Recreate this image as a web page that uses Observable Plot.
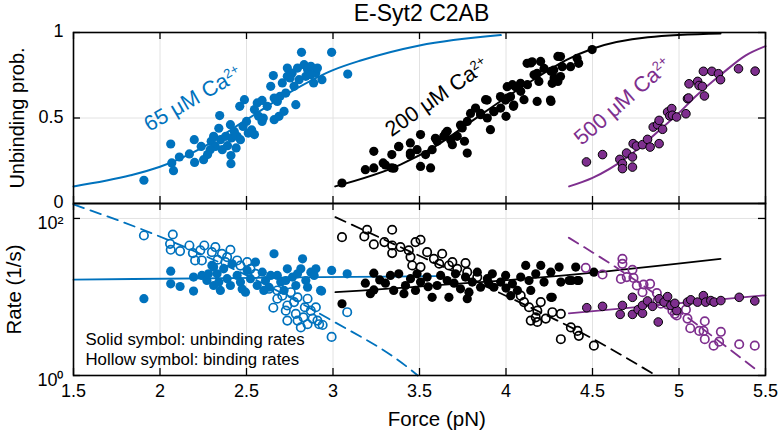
<!DOCTYPE html>
<html><head><meta charset="utf-8">
<script src="https://cdn.jsdelivr.net/npm/d3@7"></script>
<script src="https://cdn.jsdelivr.net/npm/@observablehq/plot@0.6"></script>
<style>
body{margin:0;background:#fff;}
#chart{width:779px;height:438px;font-family:"Liberation Sans",Arial,sans-serif;}
#chart svg{display:block;overflow:visible;}
</style></head><body><div id="chart"></div>
<script>
// ---------- data ----------
const title = "E-Syt2 C2AB";
const xTicks = [1.5, 2, 2.5, 3, 3.5, 4, 4.5, 5, 5.5];
const xTickLabels = ["1.5", "2", "2.5", "3", "3.5", "4", "4.5", "5", "5.5"];
const probTicks = [0, 0.5, 1];
const probTickLabels = ["0", "0.5", "1"];
const rateTicks = [1, 100];
const rateTickLabels = ["10\u2070", "10\u00B2"];
const seriesNames = ["65 \u03BCM Ca\u00B2\u207A", "200 \u03BCM Ca\u00B2\u207A", "500 \u03BCM Ca\u00B2\u207A"];
const legendLines = ["Solid symbol: unbinding rates", "Hollow symbol: binding rates"];
const xLabel = "Force (pN)", yLabelTop = "Unbinding prob.", yLabelBottom = "Rate (1/s)";

// unbinding probability [force pN, prob]
const probBlue = [[1.907,0.136],[2.062,0.348],[2.068,0.237],[2.078,0.192],[2.112,0.272],[2.17,0.29],[2.198,0.373],[2.20,0.24],[2.252,0.256],[2.238,0.334],[2.296,0.364],[2.31,0.393],[2.345,0.514],[2.34,0.44],[2.35,0.373],[2.36,0.315],[2.32,0.334],[2.407,0.461],[2.413,0.383],[2.41,0.28],[2.41,0.233],[2.44,0.325],[2.446,0.393],[2.461,0.568],[2.488,0.607],[2.48,0.451],[2.50,0.48],[2.51,0.412],[2.546,0.403],[2.546,0.549],[2.562,0.588],[2.59,0.603],[2.597,0.5],[2.59,0.48],[2.62,0.568],[2.64,0.685],[2.655,0.748],[2.66,0.49],[2.678,0.597],[2.688,0.51],[2.694,0.627],[2.717,0.539],[2.727,0.646],[2.736,0.792],[2.752,0.734],[2.775,0.685],[2.785,0.578],[2.804,0.724],[2.818,0.884],[2.833,0.812],[2.843,0.744],[2.853,0.783],[2.872,0.802],[2.888,0.705],[2.90,0.763],[2.91,0.792],[2.936,0.724],[2.992,0.884],[3.085,0.757],[2.275,0.286],[2.29,0.315],[2.38,0.393],[2.39,0.338],[2.43,0.42],[2.465,0.373],[2.53,0.43],[2.57,0.51],[2.66,0.617],[2.707,0.705],[2.764,0.763],[2.795,0.792],[2.872,0.753],[2.736,0.744]];
const probBlack = [[3.052,0.12],[3.187,0.198],[3.236,0.208],[3.236,0.305],[3.29,0.237],[3.34,0.208],[3.34,0.286],[3.38,0.334],[3.447,0.354],[3.447,0.295],[3.486,0.315],[3.506,0.403],[3.506,0.217],[3.564,0.208],[3.535,0.286],[3.573,0.315],[3.602,0.364],[3.64,0.393],[3.66,0.422],[3.69,0.344],[3.718,0.393],[3.747,0.442],[3.76,0.364],[3.776,0.295],[3.776,0.48],[3.824,0.558],[3.853,0.519],[3.882,0.607],[3.892,0.5],[3.91,0.432],[3.93,0.539],[3.969,0.558],[4.0,0.51],[4.008,0.617],[4.037,0.695],[4.043,0.568],[4.085,0.656],[4.104,0.607],[4.124,0.695],[4.143,0.822],[4.162,0.753],[4.18,0.597],[4.19,0.714],[4.2,0.831],[4.26,0.597],[4.26,0.773],[4.278,0.734],[4.30,0.86],[4.30,0.714],[4.026,0.625],[4.007,0.683],[4.045,0.576],[4.055,0.683],[4.084,0.703],[4.122,0.82],[4.151,0.829],[4.18,0.761],[4.22,0.79],[4.257,0.605],[4.267,0.703],[4.276,0.78],[4.315,0.859],[4.315,0.742],[4.325,0.8],[4.373,0.8],[4.411,0.849],[4.42,0.82],[4.498,0.90],[3.303,0.225],[3.352,0.206],[3.38,0.332],[3.447,0.284],[3.592,0.381],[3.65,0.41],[3.68,0.371],[3.737,0.459],[3.795,0.527],[3.853,0.527],[3.891,0.605],[3.93,0.537],[3.968,0.625],[3.997,0.605]];
const probPurple = [[4.465,0.243],[4.558,0.286],[4.658,0.258],[4.673,0.233],[4.673,0.204],[4.697,0.295],[4.731,0.272],[4.731,0.213],[4.735,0.35],[4.754,0.336],[4.789,0.344],[4.818,0.375],[4.833,0.33],[4.851,0.447],[4.876,0.461],[4.885,0.486],[4.885,0.35],[4.905,0.434],[4.934,0.535],[4.947,0.512],[4.958,0.555],[4.962,0.516],[4.986,0.506],[5.04,0.525],[5.049,0.613],[5.055,0.617],[5.058,0.70],[5.108,0.714],[5.116,0.69],[5.135,0.685],[5.147,0.629],[5.141,0.773],[5.19,0.773],[5.228,0.759],[5.24,0.724],[5.344,0.788],[5.44,0.774]];

// fitted probability curves
const fitProbBlue = [[1.5,0.10],[1.83,0.165],[2.0,0.215],[2.25,0.33],[2.5,0.49],[2.75,0.65],[3.0,0.78],[3.16,0.836],[3.5,0.924],[3.97,0.985]];
const fitProbBlack = [[3.013,0.10],[3.39,0.227],[3.6,0.34],[3.8,0.48],[4.0,0.62],[4.2,0.75],[4.35,0.84],[4.5,0.905],[4.82,0.972],[5.24,0.994]];
const fitProbPurple = [[4.365,0.10],[4.5,0.15],[4.7,0.27],[4.9,0.44],[5.0,0.53],[5.1,0.63],[5.25,0.76],[5.384,0.865],[5.5,0.92]];

// rates (1/s): U = unbinding (solid), B = binding (hollow)
const rateBlueU = [[1.907,9.5],[2.062,21.3],[2.062,14.7],[2.116,13.6],[2.194,11.9],[2.194,17.9],[2.242,18.8],[2.271,16.2],[2.30,25.2],[2.31,14.0],[2.33,19.7],[2.349,12.1],[2.368,22.8],[2.388,17.1],[2.407,14.0],[2.417,26.5],[2.446,18.8],[2.465,15.5],[2.494,11.5],[2.504,21.8],[2.523,17.1],[2.552,27.8],[2.562,14.0],[2.591,20.7],[2.61,16.2],[2.63,13.3],[2.659,35.5],[2.678,18.8],[2.698,15.5],[2.717,12.1],[2.736,22.8],[2.766,17.9],[2.785,14.0],[2.814,22.8],[2.824,30.6],[2.843,16.2],[2.872,20.7],[2.891,18.8],[2.901,22.8],[2.934,11.9],[2.992,21.8],[3.082,19.7],[2.928,12.1],[2.28,19.7],[2.34,15.5],[2.475,12.6],[2.60,12.1],[2.64,18.8],[2.727,16.2],[2.795,19.7],[2.853,13.3],[2.31,24.0]];
const rateBlueB = [[1.907,60.7],[2.074,62.5],[2.058,47.5],[2.062,39.9],[2.116,38.4],[2.17,45.3],[2.19,36.2],[2.203,29.2],[2.233,39.2],[2.242,29.2],[2.256,45.3],[2.30,37.2],[2.333,29.8],[2.358,35.5],[2.388,32.2],[2.407,39.9],[2.446,29.2],[2.504,27.8],[2.523,22.8],[2.552,19.7],[2.63,12.7],[2.655,7.3],[2.678,9.5],[2.727,6.7],[2.736,5.0],[2.756,11.5],[2.775,8.6],[2.785,6.1],[2.795,5.0],[2.814,4.1],[2.829,5.5],[2.837,7.4],[2.853,9.5],[2.882,5.3],[2.901,7.4],[2.91,5.0],[2.92,4.5],[2.94,4.4],[2.992,3.1],[3.082,6.4],[2.32,43.2],[2.378,27.8],[2.465,25.1],[2.678,12.1],[2.707,10.4],[2.736,7.8],[2.795,9.9],[2.872,6.7],[2.853,4.5]];
const rateBlackU = [[3.052,8.2],[3.236,20.1],[3.187,15.0],[3.236,12.3],[3.303,15.0],[3.332,18.8],[3.351,12.1],[3.38,19.7],[3.419,14.0],[3.448,17.1],[3.477,12.1],[3.486,19.7],[3.506,15.5],[3.544,17.9],[3.573,9.9],[3.602,14.0],[3.622,18.8],[3.67,9.9],[3.66,16.2],[3.708,19.7],[3.737,12.7],[3.776,9.5],[3.766,17.9],[3.805,15.5],[3.834,20.7],[3.853,13.3],[3.892,17.1],[3.921,19.7],[3.93,13.3],[3.969,15.5],[3.998,18.8],[4.027,10.4],[4.037,14.7],[4.066,12.1],[4.085,17.9],[4.114,25.2],[4.133,16.2],[4.143,12.1],[4.172,19.7],[4.201,25.2],[4.22,15.5],[4.259,20.7],[4.259,9.9],[4.307,24.0],[4.317,15.5],[4.365,16.2],[4.403,24.0],[4.413,16.2],[4.508,20.7],[4.38,16.2],[4.42,16.2],[4.267,9.9],[3.216,11.0],[3.41,11.0],[3.786,11.5],[3.27,16.5],[3.55,13.5],[3.9,15.0],[4.0,13.0],[3.7,15.0]];
const rateBlackB = [[3.052,57.8],[3.197,71.8],[3.181,59],[3.236,46.7],[3.297,50],[3.342,71.8],[3.342,45.3],[3.342,36.2],[3.39,43.2],[3.438,39.2],[3.448,32.2],[3.477,50],[3.506,53.5],[3.458,25.2],[3.506,24.0],[3.544,37.2],[3.583,30.6],[3.614,26.5],[3.631,35.5],[3.67,25.2],[3.69,27.8],[3.718,22.8],[3.766,27],[3.776,20.7],[3.834,17.9],[4.085,10.4],[4.104,8.6],[4.133,7.4],[4.143,5.0],[4.172,5.5],[4.181,6.7],[4.181,4.8],[4.201,8.6],[4.23,5.3],[4.268,6.4],[4.317,2.9],[4.317,6.1],[4.375,4.1],[4.413,3.7],[4.421,3.2],[4.508,2.4]];
const ratePurpleU = [[4.467,7.3],[4.558,7.6],[4.66,6.0],[4.673,7.8],[4.731,6.0],[4.731,9.9],[4.764,6.9],[4.789,6.2],[4.789,7.8],[4.818,8.9],[4.847,7.6],[4.88,4.8],[4.885,9.5],[4.914,8.6],[4.934,10.1],[4.953,7.8],[4.987,6.7],[4.976,8.3],[5.049,8.6],[5.068,9.2],[5.107,8.6],[5.141,10.4],[5.154,8.6],[5.184,9.0],[5.203,8.6],[5.242,9.0],[5.348,9.9],[5.438,8.9]];
const ratePurpleB = [[4.461,23.5],[4.558,19.3],[4.673,30.6],[4.673,26.4],[4.664,17.0],[4.698,17.9],[4.731,22.2],[4.737,17.5],[4.756,14.0],[4.789,11.5],[4.795,14.4],[4.833,14.7],[4.872,11.2],[4.876,9.0],[4.895,8.2],[4.934,8.0],[4.962,6.7],[4.976,6.1],[4.987,5.8],[5.04,6.9],[5.049,5.3],[5.065,4.0],[5.117,3.7],[5.142,3.7],[5.149,4.9],[5.149,2.9],[5.2,2.4],[5.232,2.7],[5.242,3.6],[5.348,2.5],[5.438,2.4]];

// fitted rate curves
const fitRateBlueU = [[1.5,16.6],[2.93,17.9],[3.6,18.4]];
const fitRateBlueB = [[1.5,151],[1.97,62.5],[2.976,5.27],[3.43,1.28],[3.49,1.0]];
const fitRateBlackU = [[3.014,11.5],[4.431,19.7],[5.24,30.6]];
const fitRateBlackB = [[3.014,104],[3.265,57.8],[4.276,5.27],[4.392,3.94],[4.845,1.07]];
const fitRatePurpleU = [[4.363,6.2],[5.5,10.5]];
const fitRatePurpleB = [[4.363,56.8],[4.604,26.5],[5.452,1.16]];

// label anchor positions (force, prob, angle)
const labelPos = [[2.19,0.612,-30],[3.60,0.622,-35],[4.675,0.597,-41]];

// ---------- styling ----------
const BLUE = "#0072BD", BLACK = "#000000", PURPLE = "#7E2F8E";
const colors = [BLUE, BLACK, PURPLE];
const GRID = "#e2e2e2";
const FONT = "Liberation Sans, Arial, sans-serif";
const W = 779, ML = 73, MR = 14;
const FW = W - ML - MR;
const fx = d => d[0], fy = d => d[1];
const TOPH = 203, TOPM = 32, TOPFH = TOPH - TOPM;
const BOTH = 235, BOTMB = 63, BOTFH = BOTH - BOTMB;

const topPlot = Plot.plot({
  width: W, height: TOPH,
  marginTop: TOPM, marginBottom: 0, marginLeft: ML, marginRight: MR,
  style: {fontFamily: FONT, fontSize: "18px", background: "white", overflow: "visible"},
  x: {domain: [1.5, 5.5], axis: null},
  y: {domain: [0, 1], axis: null},
  marks: [
    Plot.gridX(xTicks, {stroke: GRID, strokeOpacity: 1}),
    Plot.gridY([0.5], {stroke: GRID, strokeOpacity: 1}),
    Plot.line(fitProbBlue, {x: fx, y: fy, stroke: colors[0], strokeWidth: 2, curve: "monotone-x"}),
    Plot.line(fitProbBlack, {x: fx, y: fy, stroke: colors[1], strokeWidth: 2, curve: "monotone-x"}),
    Plot.line(fitProbPurple, {x: fx, y: fy, stroke: colors[2], strokeWidth: 2, curve: "monotone-x"}),
    Plot.dot(probBlue, {x: fx, y: fy, r: 4.6, fill: colors[0]}),
    Plot.dot(probBlack, {x: fx, y: fy, r: 4.6, fill: colors[1]}),
    Plot.dot(probPurple, {x: fx, y: fy, r: 4.3, fill: colors[2], stroke: "black", strokeWidth: 1}),
    ...seriesNames.map((s, i) => Plot.text([labelPos[i]], {
      x: fx, y: fy, text: () => s, rotate: labelPos[i][2], fill: colors[i], fontSize: 21.5, textAnchor: "middle", lineAnchor: "middle"
    })),
    Plot.tickX(xTicks, {x: d => d, stroke: "black", strokeWidth: 1.3, insetBottom: TOPFH - 7}),
    Plot.tickX(xTicks, {x: d => d, stroke: "black", strokeWidth: 1.3, insetTop: TOPFH - 7}),
    Plot.tickY(probTicks, {y: d => d, stroke: "black", strokeWidth: 1.3, insetRight: FW - 7}),
    Plot.tickY(probTicks, {y: d => d, stroke: "black", strokeWidth: 1.3, insetLeft: FW - 7}),
    Plot.frame({stroke: "black", strokeWidth: 1.6}),
    Plot.axisY({ticks: probTicks, tickSize: 0, tickPadding: 10, dy: -1, tickFormat: d => probTickLabels[probTicks.indexOf(d)], label: null, fontSize: 18}),
    Plot.text([title], {frameAnchor: "top", dy: -19, dx: 2, fontSize: 23, lineAnchor: "middle", textAnchor: "middle"}),
    Plot.text([yLabelTop], {frameAnchor: "left", dx: -56, rotate: -90, fontSize: 20, lineAnchor: "middle", textAnchor: "middle"})
  ]
});

const bottomPlot = Plot.plot({
  width: W, height: BOTH,
  marginTop: 0, marginBottom: BOTMB, marginLeft: ML, marginRight: MR,
  style: {fontFamily: FONT, fontSize: "18px", background: "white", overflow: "visible"},
  x: {domain: [1.5, 5.5], axis: null},
  y: {type: "log", domain: [1, 155], axis: null},
  marks: [
    Plot.gridX(xTicks, {stroke: GRID, strokeOpacity: 1}),
    Plot.gridY([100], {stroke: GRID, strokeOpacity: 1}),
    Plot.line(fitRateBlueU, {x: fx, y: fy, stroke: BLUE, strokeWidth: 1.8, curve: "monotone-x"}),
    Plot.line(fitRateBlueB, {x: fx, y: fy, stroke: BLUE, strokeWidth: 1.8, strokeDasharray: "11,7", curve: "monotone-x"}),
    Plot.line(fitRateBlackU, {x: fx, y: fy, stroke: BLACK, strokeWidth: 1.8, curve: "monotone-x"}),
    Plot.line(fitRateBlackB, {x: fx, y: fy, stroke: BLACK, strokeWidth: 1.8, strokeDasharray: "11,7", curve: "monotone-x"}),
    Plot.line(fitRatePurpleU, {x: fx, y: fy, stroke: PURPLE, strokeWidth: 1.8, curve: "monotone-x"}),
    Plot.line(fitRatePurpleB, {x: fx, y: fy, stroke: PURPLE, strokeWidth: 1.8, strokeDasharray: "11,7", curve: "monotone-x"}),
    Plot.dot(rateBlueB, {x: fx, y: fy, r: 4.2, stroke: BLUE, strokeWidth: 1.7, fill: "none"}),
    Plot.dot(rateBlueU, {x: fx, y: fy, r: 4.6, fill: BLUE}),
    Plot.dot(rateBlackB, {x: fx, y: fy, r: 4.2, stroke: BLACK, strokeWidth: 1.7, fill: "none"}),
    Plot.dot(rateBlackU, {x: fx, y: fy, r: 4.6, fill: BLACK}),
    Plot.dot(ratePurpleB, {x: fx, y: fy, r: 4.2, stroke: PURPLE, strokeWidth: 1.7, fill: "none"}),
    Plot.dot(ratePurpleU, {x: fx, y: fy, r: 4.3, fill: PURPLE, stroke: "black", strokeWidth: 1}),
    Plot.tickX(xTicks, {x: d => d, stroke: "black", strokeWidth: 1.3, insetBottom: BOTFH - 7}),
    Plot.tickX(xTicks, {x: d => d, stroke: "black", strokeWidth: 1.3, insetTop: BOTFH - 7}),
    Plot.tickY(rateTicks, {y: d => d, stroke: "black", strokeWidth: 1.3, insetRight: FW - 7}),
    Plot.tickY(rateTicks, {y: d => d, stroke: "black", strokeWidth: 1.3, insetLeft: FW - 7}),
    Plot.frame({stroke: "black", strokeWidth: 1.6}),
    Plot.axisY({ticks: rateTicks, tickSize: 0, tickPadding: 10, dy: 5, tickFormat: d => rateTickLabels[rateTicks.indexOf(d)], label: null, fontSize: 18}),
    Plot.axisX({ticks: xTicks, tickSize: 0, tickPadding: 9, tickFormat: d => xTickLabels[xTicks.indexOf(d)], label: null, fontSize: 18}),
    Plot.text([xLabel], {x: () => 3.6, frameAnchor: "bottom", dy: 44, fontSize: 20.5, lineAnchor: "middle", textAnchor: "middle"}),
    Plot.text([yLabelBottom], {frameAnchor: "left", dx: -59, rotate: -90, fontSize: 20.5, lineAnchor: "middle", textAnchor: "middle"}),
    Plot.text([legendLines[0]], {frameAnchor: "bottom-left", dx: 12, dy: -36, fontSize: 16.8, textAnchor: "start", lineAnchor: "middle"}),
    Plot.text([legendLines[1]], {frameAnchor: "bottom-left", dx: 12, dy: -16, fontSize: 16.8, textAnchor: "start", lineAnchor: "middle"})
  ]
});

// render the Ca2+ charge as a real superscript
topPlot.querySelectorAll("text").forEach(t => {
  const s = t.textContent;
  if (seriesNames.includes(s)) {
    const base = s.replace("\u00B2\u207A", "");
    t.textContent = base;
    const sup = document.createElementNS("http://www.w3.org/2000/svg", "tspan");
    sup.setAttribute("dy", "-0.55em");
    sup.setAttribute("font-size", "13");
    sup.textContent = "2+";
    t.appendChild(sup);
  }
});

const root = document.getElementById("chart");
root.appendChild(topPlot);
root.appendChild(bottomPlot);
</script></body></html>
